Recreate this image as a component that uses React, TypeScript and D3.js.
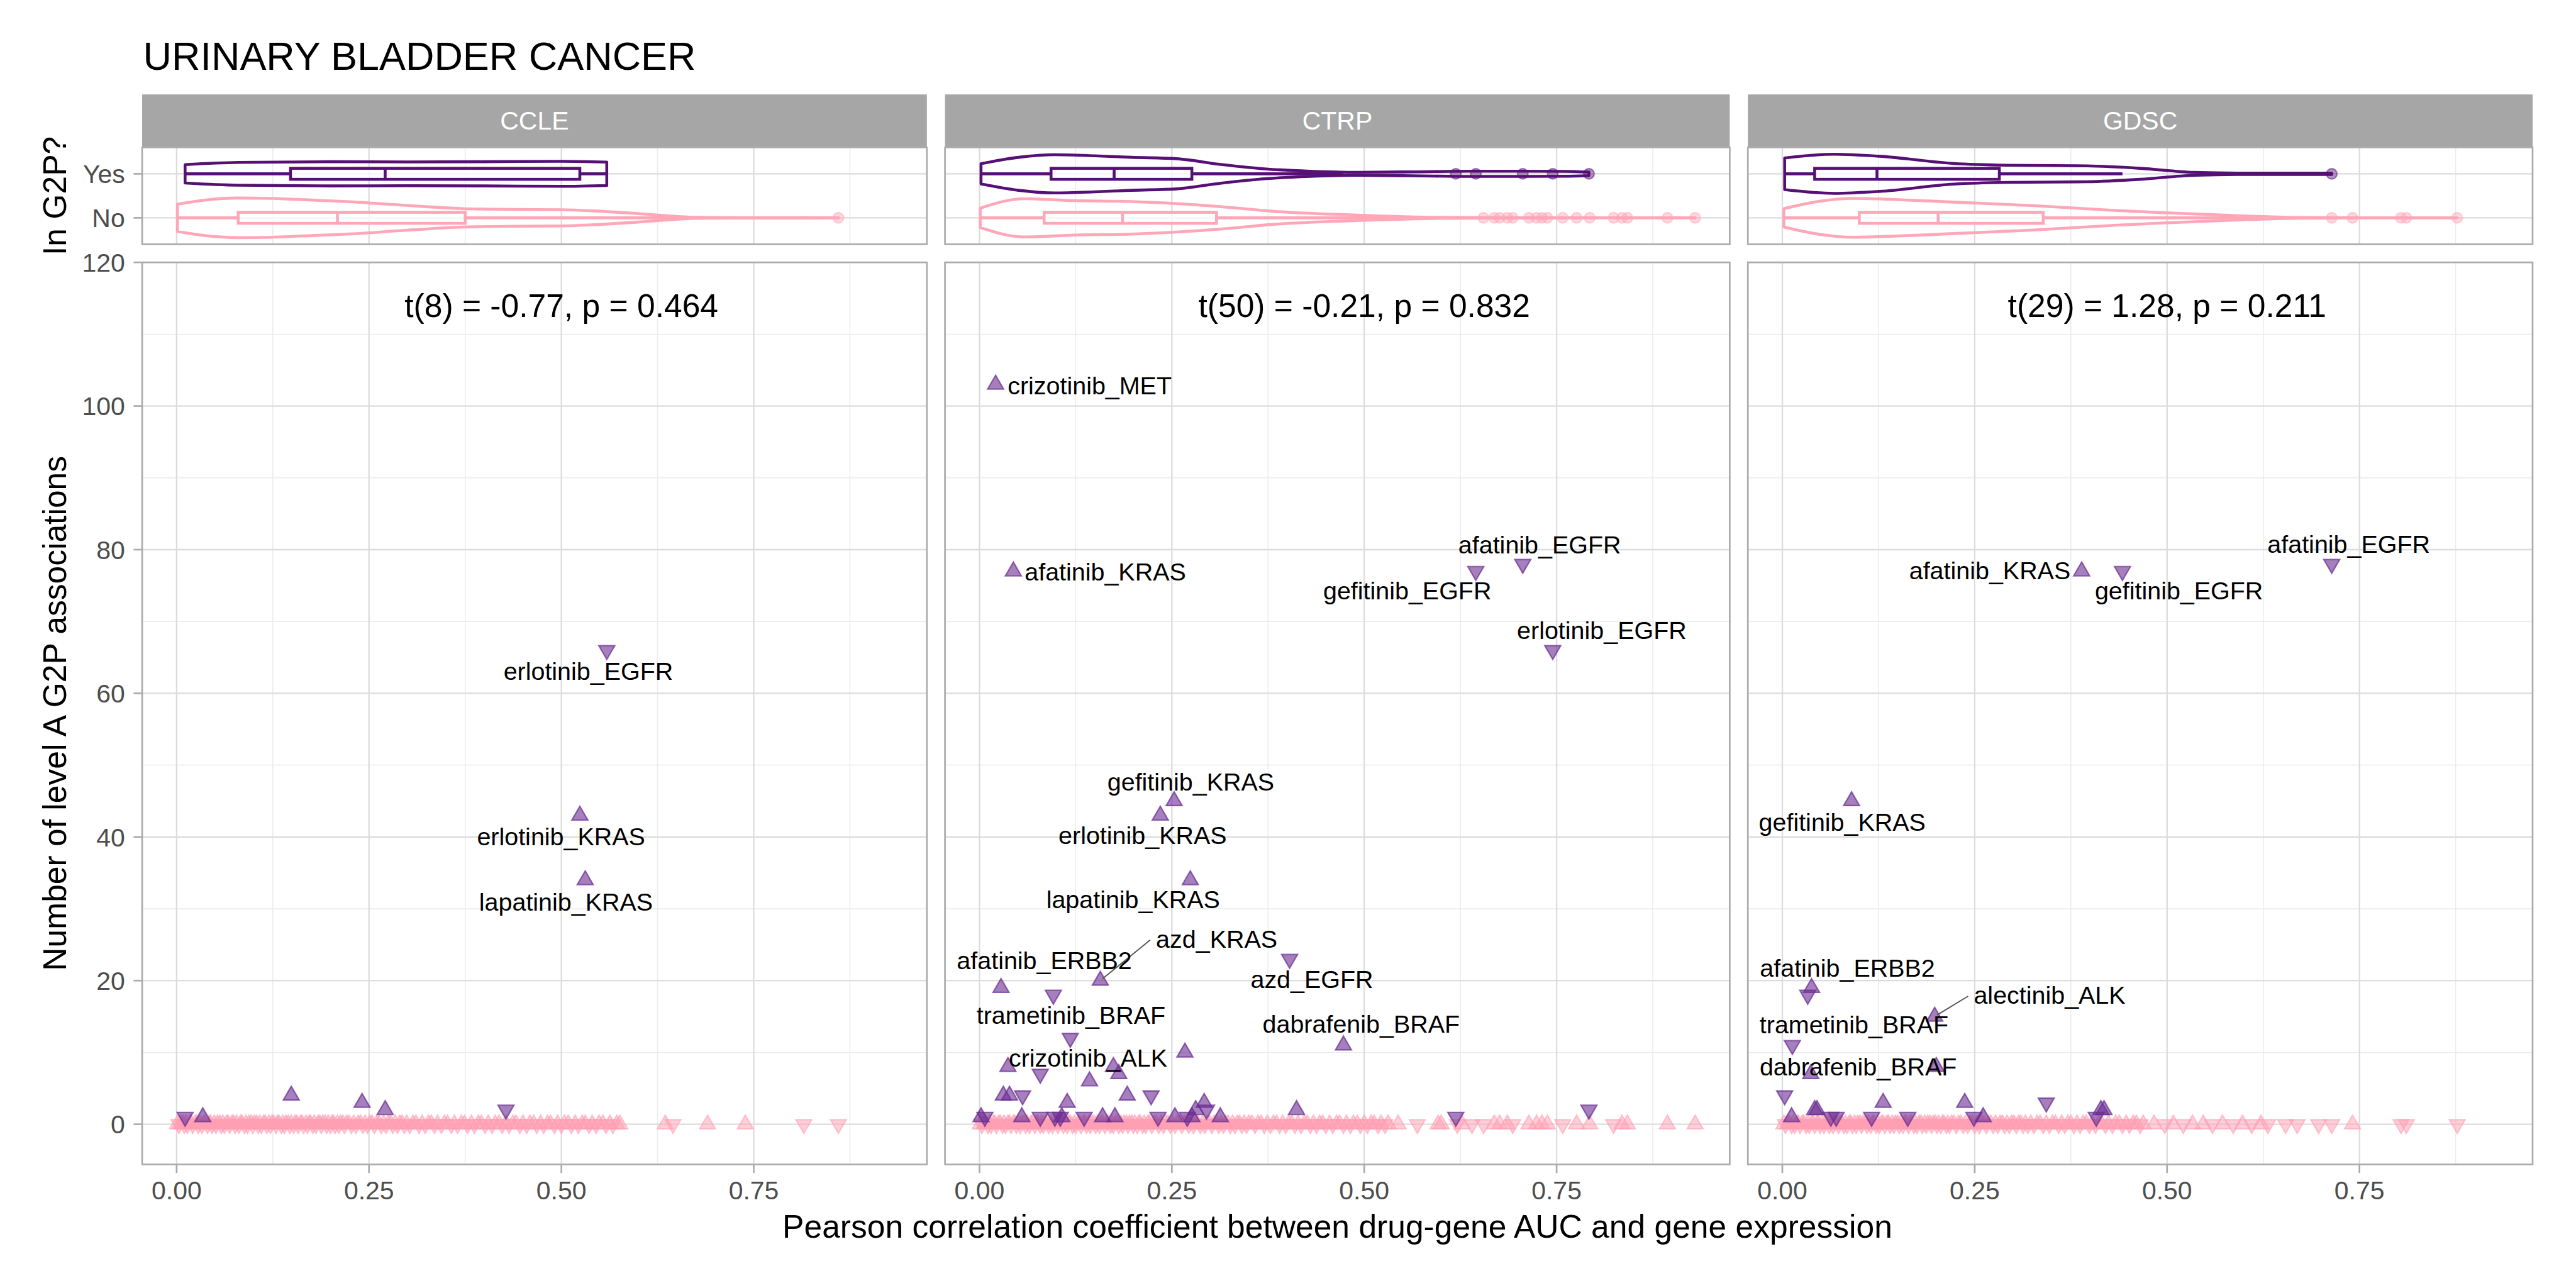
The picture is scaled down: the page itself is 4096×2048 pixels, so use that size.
import React from 'react';
import * as d3 from 'd3';

// facets and annotations
const datasets = ['CCLE', 'CTRP', 'GDSC'];
const tTests = ['t(8) = -0.77, p = 0.464', 't(50) = -0.21, p = 0.832', 't(29) = 1.28, p = 0.211'];
const groups = ['Yes', 'No'];
const xTicks = [0, 0.25, 0.5, 0.75];
const xMinor = [0.125, 0.375, 0.625, 0.875];
const yTicks = [0, 20, 40, 60, 80, 100, 120];
const yMinor = [10, 30, 50, 70, 90, 110];

// in G2P: [signed r (sign = triangle direction), number of level A associations]
const ccleYes = [[-0.559, 66], [0.524, 43], [0.531, 34], [0.149, 4], [0.241, 3], [0.271, 2], [-0.428, 2], [-0.011, 1], [0.034, 1]];
const ctrpYes = [[0.021, 103], [0.044, 77], [-0.706, 78], [-0.645, 77], [-0.745, 66], [0.253, 45], [0.235, 43], [0.274, 34], [-0.403, 23], [0.157, 20], [0.028, 19], [-0.096, 18], [-0.118, 12], [0.473, 11], [0.267, 10], [0.037, 8], [0.174, 8], [0.181, 7], [-0.079, 7], [0.143, 6], [0.031, 4], [0.039, 4], [-0.056, 4], [0.192, 4], [-0.223, 4], [0.114, 3], [0.292, 3], [0.281, 2], [-0.295, 2], [0.412, 2], [-0.792, 2], [-0.619, 1], [-0.007, 1], [0.002, 1], [0.055, 1], [-0.079, 1], [-0.098, 1], [-0.105, 1], [0.107, 1], [-0.136, 1], [0.16, 1], [0.176, 1], [-0.232, 1], [0.254, 1], [-0.27, 1], [0.276, 1], [0.313, 1]];
const gdscYes = [[0.389, 77], [-0.442, 77], [-0.714, 78], [0.09, 45], [0.038, 19], [-0.033, 18], [0.198, 15], [-0.013, 11], [0.2, 8], [0.037, 7], [-0.003, 4], [0.131, 3], [0.237, 3], [-0.343, 3], [0.042, 2], [0.045, 2], [0.414, 2], [0.418, 2], [-0.408, 1], [-0.07, 1], [-0.063, 1], [0.012, 1], [-0.116, 1], [-0.163, 1], [-0.249, 1], [0.261, 1]];

// not in G2P: signed r, all at 0 associations
const ccleNo = [0.001, -0.003, 0.005, 0.008, -0.01, 0.012, -0.014, 0.017, 0.019, -0.021, 0.024, 0.026, -0.028, 0.03, -0.033, 0.035, 0.037, -0.04, 0.042, 0.044, -0.046, 0.049, -0.051, 0.053, 0.056, -0.058, 0.06, -0.062, 0.065, 0.067, -0.069, 0.072, 0.074, -0.076, 0.078, -0.081, 0.083, 0.085, -0.088, 0.09, -0.092, 0.094, 0.097, -0.099, 0.101, 0.104, -0.106, 0.108, -0.11, 0.113, 0.115, -0.117, 0.12, -0.122, 0.124, 0.126, -0.129, 0.131, 0.133, -0.136, 0.138, -0.14, 0.142, 0.145, -0.147, 0.149, -0.152, 0.154, 0.156, -0.158, 0.161, 0.163, -0.165, 0.168, -0.17, 0.172, 0.174, -0.177, 0.179, -0.181, 0.184, 0.186, -0.188, 0.19, 0.193, -0.195, 0.197, -0.2, 0.202, 0.204, -0.206, 0.209, -0.211, 0.213, 0.216, -0.218, 0.221, 0.224, -0.227, 0.23, -0.233, 0.236, 0.239, -0.242, 0.245, -0.248, 0.251, 0.254, -0.257, 0.26, 0.263, -0.266, 0.269, -0.272, 0.275, 0.278, -0.281, 0.284, -0.287, 0.29, 0.293, -0.296, 0.299,
    -0.303, 0.307, 0.311, -0.315, 0.319, -0.323, 0.327, 0.331, -0.335, 0.339, -0.344, 0.348, 0.352, -0.357, 0.361, -0.365, 0.37, 0.374, -0.378, 0.383, -0.387, 0.392, 0.396, -0.401, 0.405, -0.41, 0.414, 0.419, -0.423, 0.428, -0.432, 0.437, 0.441, -0.446, 0.45, -0.455, 0.459, 0.464, -0.468, 0.473, -0.477, 0.482, 0.486, -0.491, 0.495, -0.5, 0.504, 0.509, -0.513, 0.518, -0.522, 0.527, 0.531, -0.536, 0.54, -0.545, 0.549, 0.554, -0.558, 0.563, -0.567, 0.572, 0.576,
    0.635, -0.645, 0.69, 0.739, -0.815, -0.86];
const ctrpNo = [0.001, -0.003, 0.006, 0.008, -0.011, 0.013, -0.015, 0.018, 0.02, -0.022, 0.025, 0.027, -0.03, 0.032, -0.034, 0.037, 0.039, -0.041, 0.044, 0.046, -0.048, 0.051, -0.053, 0.055, 0.058, -0.06, 0.062, -0.065, 0.067, 0.069, -0.072, 0.074, 0.076, -0.079, 0.081, -0.083, 0.086, 0.088, -0.09, 0.093, -0.095, 0.097, 0.1, -0.102, 0.104, 0.107, -0.109, 0.111, -0.114, 0.116, 0.118, -0.121, 0.123, -0.125, 0.128, 0.13, -0.132, 0.135, 0.137, -0.139, 0.142, -0.144, 0.146, 0.149, -0.151, 0.153, -0.156, 0.158, 0.16, -0.163, 0.165, 0.167, -0.17, 0.172, -0.174, 0.177, 0.179, -0.181, 0.184, -0.186, 0.188, 0.191, -0.193, 0.195, 0.198, -0.2, 0.202, -0.205, 0.207, 0.209, -0.212, 0.214, -0.216, 0.219, 0.221, -0.224, 0.227, 0.23, -0.233, 0.236, -0.239, 0.242, 0.245, -0.248, 0.251, -0.254, 0.257, 0.26, -0.263, 0.266, 0.269, -0.272, 0.275, -0.278, 0.281, 0.284, -0.287, 0.29, -0.293, 0.296, 0.299, -0.302, 0.305, 0.308, -0.311, 0.314, -0.317, 0.32, 0.323, -0.326, 0.329, -0.332, 0.335, 0.338, -0.341, 0.344, -0.347, 0.35,
    0.354, -0.358, 0.362, 0.366, -0.37, 0.374, -0.378, 0.382, 0.386, -0.39, 0.394, -0.398, 0.402, 0.406, -0.41, 0.414, -0.418, 0.422, 0.426, -0.43, 0.434, -0.438, 0.442, 0.446, -0.45, 0.455, -0.459, 0.464, 0.468, -0.473, 0.477, -0.482, 0.486, 0.491, -0.495, 0.5, -0.504, 0.509, 0.513, -0.518, 0.522, -0.527, 0.531,
    0.544, -0.569, 0.596, 0.6, -0.621, 0.627, -0.64, -0.655, 0.669, 0.676, 0.686, -0.693, 0.714, 0.724, 0.731, 0.738, -0.758, 0.776, 0.793, -0.824, 0.835, 0.842, 0.894, 0.93];
const gdscNo = [0.002, -0.004, 0.007, 0.009, -0.012, 0.014, -0.016, 0.019, 0.021, -0.023, 0.026, 0.028, -0.031, 0.033, -0.035, 0.038, 0.04, -0.042, 0.045, 0.047, -0.049, 0.052, -0.054, 0.056, 0.059, -0.061, 0.063, -0.066, 0.068, 0.07, -0.073, 0.075, 0.077, -0.08, 0.082, -0.084, 0.087, 0.089, -0.091, 0.094, -0.096, 0.098, 0.101, -0.103, 0.105, 0.108, -0.11, 0.112, -0.115, 0.117, 0.119, -0.122, 0.124, -0.126, 0.129, 0.131, -0.133, 0.136, 0.138, -0.14, 0.143, -0.145, 0.147, 0.15, -0.152, 0.154, -0.157, 0.159, 0.161, -0.164, 0.166, 0.168, -0.171, 0.173, -0.175, 0.178, 0.18, -0.182, 0.185, -0.187, 0.189, 0.192, -0.194, 0.196, 0.199, -0.201, 0.203, -0.206, 0.208, 0.21, -0.213, 0.215, -0.217, 0.22, 0.223, -0.226, 0.229, 0.232, -0.235, 0.238, -0.241, 0.244, 0.247, -0.25, 0.253, -0.256, 0.259, 0.262, -0.265, 0.268, 0.271, -0.274, 0.277, -0.28, 0.283, 0.286, -0.289, 0.292, -0.295, 0.298, 0.301, -0.304, 0.307, 0.31, -0.313, 0.316, -0.319,
    0.323, -0.327, 0.331, 0.335, -0.339, 0.343, -0.347, 0.351, 0.355, -0.359, 0.363, -0.367, 0.371, 0.375, -0.379, 0.383, -0.387, 0.391, 0.395, -0.399, 0.403, -0.407, 0.411, 0.415, -0.42, 0.424, -0.429, 0.433, 0.438, -0.442, 0.447, -0.451, 0.456, 0.46, -0.465, 0.469,
    0.483, -0.497, 0.508, -0.521, 0.533, 0.547, -0.559, 0.572, -0.586, 0.598, -0.61, 0.622, -0.631,
    -0.654, -0.669, -0.697, -0.714, 0.741, -0.804, -0.811, -0.877];

// violin outlines: [|r|, half width in category units]
const ccleYesViolin = [[0.011, 0.21], [0.08, 0.26], [0.2, 0.275], [0.3, 0.27], [0.4, 0.275], [0.5, 0.285], [0.559, 0.265]];
const ccleNoViolin = [[0.001, 0.31], [0.04, 0.41], [0.078, 0.45], [0.124, 0.44], [0.18, 0.4], [0.221, 0.37], [0.3, 0.28], [0.372, 0.21], [0.44, 0.19], [0.5, 0.185], [0.55, 0.15], [0.597, 0.1], [0.64, 0.045], [0.672, 0.012], [0.72, 0.005], [0.8, 0.004], [0.86, 0.003]];
const ctrpYesViolin = [[0.002, 0.23], [0.051, 0.375], [0.098, 0.435], [0.15, 0.41], [0.197, 0.375], [0.256, 0.343], [0.314, 0.212], [0.373, 0.109], [0.43, 0.06], [0.49, 0.035], [0.562, 0.045], [0.636, 0.06], [0.709, 0.06], [0.76, 0.055], [0.792, 0.04]];
const ctrpNoViolin = [[0.001, 0.22], [0.058, 0.435], [0.124, 0.39], [0.197, 0.37], [0.27, 0.31], [0.33, 0.23], [0.38, 0.15], [0.49, 0.063], [0.599, 0.011], [0.672, 0.005], [0.8, 0.003], [0.93, 0.002]];
const gdscYesViolin = [[0.003, 0.36], [0.0675, 0.445], [0.126, 0.4], [0.223, 0.234], [0.292, 0.196], [0.396, 0.18], [0.465, 0.125], [0.535, 0.033], [0.604, 0.015], [0.714, 0.016]];
const gdscNoViolin = [[0.002, 0.21], [0.05, 0.38], [0.092, 0.44], [0.154, 0.41], [0.223, 0.357], [0.327, 0.278], [0.431, 0.169], [0.5, 0.114], [0.604, 0.041], [0.673, 0.008], [0.742, 0.003], [0.877, 0.002]];

// boxplots: [lower whisker, q1, median, q3, upper whisker]
const ccleBox = { Yes: [0.011, 0.148, 0.271, 0.524, 0.559], No: [0.001, 0.08, 0.209, 0.375, 0.816] };
const ctrpBox = { Yes: [0.002, 0.093, 0.175, 0.276, 0.473], No: [0.001, 0.084, 0.186, 0.308, 0.64] };
const gdscBox = { Yes: [0.003, 0.042, 0.123, 0.282, 0.442], No: [0.002, 0.1, 0.2025, 0.339, 0.697] };

// repelled labels: label anchor (lx, ly) in data units
const ccleLabels = [
    { text: 'erlotinib_EGFR', lx: 0.535, ly: 61.9, anchor: 'middle' },
    { text: 'erlotinib_KRAS', lx: 0.4996, ly: 38.8, anchor: 'middle' },
    { text: 'lapatinib_KRAS', lx: 0.506, ly: 29.7, anchor: 'middle' },
];
const ctrpLabels = [
    { text: 'crizotinib_MET', lx: 0.0366, ly: 101.66, anchor: 'start' },
    { text: 'afatinib_KRAS', lx: 0.0587, ly: 75.7, anchor: 'start' },
    { text: 'afatinib_EGFR', lx: 0.728, ly: 79.5, anchor: 'middle' },
    { text: 'gefitinib_EGFR', lx: 0.556, ly: 73.1, anchor: 'middle' },
    { text: 'erlotinib_EGFR', lx: 0.8087, ly: 67.6, anchor: 'middle' },
    { text: 'gefitinib_KRAS', lx: 0.2746, ly: 46.5, anchor: 'middle' },
    { text: 'erlotinib_KRAS', lx: 0.212, ly: 39.0, anchor: 'middle' },
    { text: 'lapatinib_KRAS', lx: 0.1997, ly: 30.1, anchor: 'middle' },
    { text: 'azd_KRAS', lx: 0.2294, ly: 24.6, anchor: 'start', seg: [0.157, 20] },
    { text: 'afatinib_ERBB2', lx: 0.0843, ly: 21.6, anchor: 'middle' },
    { text: 'azd_EGFR', lx: 0.432, ly: 19.0, anchor: 'middle' },
    { text: 'trametinib_BRAF', lx: 0.1189, ly: 13.95, anchor: 'middle' },
    { text: 'dabrafenib_BRAF', lx: 0.496, ly: 12.75, anchor: 'middle' },
    { text: 'crizotinib_ALK', lx: 0.141, ly: 8.0, anchor: 'middle' },
];
const gdscLabels = [
    { text: 'afatinib_KRAS', lx: 0.3745, ly: 75.9, anchor: 'end' },
    { text: 'gefitinib_EGFR', lx: 0.5154, ly: 73.1, anchor: 'middle' },
    { text: 'afatinib_EGFR', lx: 0.7361, ly: 79.6, anchor: 'middle' },
    { text: 'gefitinib_KRAS', lx: 0.0778, ly: 40.9, anchor: 'middle' },
    { text: 'afatinib_ERBB2', lx: 0.0846, ly: 20.5, anchor: 'middle' },
    { text: 'alectinib_ALK', lx: 0.2488, ly: 16.76, anchor: 'start', seg: [0.198, 15] },
    { text: 'trametinib_BRAF', lx: 0.0931, ly: 12.65, anchor: 'middle' },
    { text: 'dabrafenib_BRAF', lx: 0.0986, ly: 6.8, anchor: 'middle' },
];

const yesPoints = [ccleYes, ctrpYes, gdscYes];
const noPoints = [ccleNo, ctrpNo, gdscNo];
const violins = [
    { Yes: ccleYesViolin, No: ccleNoViolin },
    { Yes: ctrpYesViolin, No: ctrpNoViolin },
    { Yes: gdscYesViolin, No: gdscNoViolin },
];
const boxes = [ccleBox, ctrpBox, gdscBox];
const labels = [ccleLabels, ctrpLabels, gdscLabels];

const colors = { Yes: '#560F75', No: '#FFA7B8' };
const FONT = '"Liberation Sans", Arial, Helvetica, sans-serif';

// layout in reference pixels, scaled by the viewBox
const W = 5400, H = 2700;
const panelLeft = [298, 1981, 3664];
const panelW = 1645;
const stripTop = 198, stripBottom = 308;
const vioTop = 309, vioBottom = 512;
const scTop = 550, scBottom = 2441;

const gridMajor = '#DCDCDC';
const gridMinor = '#EBEBEB';
const borderCol = '#ABABAB';

export default function App() {
    const y = d3.scaleLinear().domain([-5.6, 120]).range([scBottom, scTop]);
    const cat = d3.scalePoint<string>().domain(groups).range([vioTop, vioBottom]).padding(0.6);
    const step = cat.step();
    const tri = d3.symbol().type(d3.symbolTriangle).size(480)() as string;

    const triangle = (px: number, py: number, down: boolean, fill: string, fo: number, so: number, key: string) => (
        <path key={key} d={tri} transform={`translate(${px},${py})${down ? ' rotate(180)' : ''}`}
            fill={fill} fillOpacity={fo} stroke={fill} strokeOpacity={so} strokeWidth={3} />
    );

    return (
        <svg width={4096} height={2048} viewBox={`0 0 ${W} ${H}`}
            style={{ position: 'absolute', left: 0, top: 0, background: '#fff' }} fontFamily={FONT}>
            <rect x={0} y={0} width={W} height={H} fill="#fff" />
            <text x={300} y={146} fontSize={83} fill="#000">URINARY BLADDER CANCER</text>

            {/* y axis titles */}
            <text transform={`translate(138,${(vioTop + vioBottom) / 2}) rotate(-90)`} textAnchor="middle" fontSize={68}>In G2P?</text>
            <text transform={`translate(138,${(scTop + scBottom) / 2}) rotate(-90)`} textAnchor="middle" fontSize={68}>Number of level A G2P associations</text>
            <text x={(panelLeft[0] + panelLeft[2] + panelW) / 2} y={2595} textAnchor="middle" fontSize={68}>
                Pearson correlation coefficient between drug-gene AUC and gene expression
            </text>

            {/* y ticks (left column only) */}
            {groups.map(g => (
                <g key={g}>
                    <line x1={280} x2={298} y1={cat(g)} y2={cat(g)} stroke={borderCol} strokeWidth={3.5} />
                    <text x={262} y={(cat(g) as number) + 19.5} textAnchor="end" fontSize={54} fill="#4D4D4D">{g}</text>
                </g>
            ))}
            {yTicks.map(t => (
                <g key={t}>
                    <line x1={280} x2={298} y1={y(t)} y2={y(t)} stroke={borderCol} strokeWidth={3.5} />
                    <text x={262} y={y(t) + 19.5} textAnchor="end" fontSize={54} fill="#4D4D4D">{t}</text>
                </g>
            ))}

            {datasets.map((ds, i) => {
                const left = panelLeft[i];
                const x = d3.scaleLinear().domain([-0.0448, 0.975]).range([left, left + panelW]);
                const box = boxes[i] as any;
                const vio = violins[i] as any;
                return (
                    <g key={ds}>
                        {/* strip */}
                        <rect x={left} y={stripTop} width={panelW} height={stripBottom - stripTop} fill="#A6A6A6" />
                        <text x={left + panelW / 2} y={272} textAnchor="middle" fontSize={54} fill="#fff">{ds}</text>

                        {/* violin panel */}
                        <rect x={left} y={vioTop} width={panelW} height={vioBottom - vioTop} fill="#fff" />
                        {xMinor.map(t => <line key={'vm' + t} x1={x(t)} x2={x(t)} y1={vioTop} y2={vioBottom} stroke={gridMinor} strokeWidth={2} />)}
                        {xTicks.map(t => <line key={'vM' + t} x1={x(t)} x2={x(t)} y1={vioTop} y2={vioBottom} stroke={gridMajor} strokeWidth={3} />)}
                        {groups.map(g => <line key={'vg' + g} x1={left} x2={left + panelW} y1={cat(g)} y2={cat(g)} stroke={gridMajor} strokeWidth={3} />)}
                        {groups.map(g => {
                            const cy = cat(g) as number;
                            const prof = vio[g] as number[][];
                            const area = d3.area<number[]>()
                                .x(d => x(d[0]))
                                .y0(d => cy - d[1] * step)
                                .y1(d => cy + d[1] * step)
                                .curve(d3.curveMonotoneX);
                            const [lo, q1, med, q3, hi] = box[g] as number[];
                            const bh = 0.125 * step;
                            const vals = g === 'Yes'
                                ? (yesPoints[i] as number[][]).map(p => Math.abs(p[0]))
                                : (noPoints[i] as number[]).map(v => Math.abs(v));
                            const outliers = vals.filter(v => v > hi + 1e-9);
                            const c = colors[g as 'Yes' | 'No'];
                            return (
                                <g key={'v' + g}>
                                    <path d={area(prof) as string} fill="none" stroke={c} strokeWidth={6} strokeLinejoin="round" />
                                    <line x1={x(lo)} x2={x(q1)} y1={cy} y2={cy} stroke={c} strokeWidth={6} />
                                    <line x1={x(q3)} x2={x(hi)} y1={cy} y2={cy} stroke={c} strokeWidth={6} />
                                    <rect x={x(q1)} y={cy - bh} width={x(q3) - x(q1)} height={2 * bh}
                                        fill="#fff" fillOpacity={0.7} stroke={c} strokeWidth={6} />
                                    <line x1={x(med)} x2={x(med)} y1={cy - bh} y2={cy + bh} stroke={c} strokeWidth={6} />
                                    {outliers.map((v, k) => (
                                        <circle key={k} cx={x(v)} cy={cy} r={11} fill={c} fillOpacity={0.45}
                                            stroke={c} strokeOpacity={0.5} strokeWidth={3} />
                                    ))}
                                </g>
                            );
                        })}
                        <rect x={left} y={vioTop} width={panelW} height={vioBottom - vioTop} fill="none" stroke={borderCol} strokeWidth={3.5} />

                        {/* scatter panel */}
                        <rect x={left} y={scTop} width={panelW} height={scBottom - scTop} fill="#fff" />
                        {xMinor.map(t => <line key={'sm' + t} x1={x(t)} x2={x(t)} y1={scTop} y2={scBottom} stroke={gridMinor} strokeWidth={2} />)}
                        {yMinor.map(t => <line key={'sym' + t} x1={left} x2={left + panelW} y1={y(t)} y2={y(t)} stroke={gridMinor} strokeWidth={2} />)}
                        {xTicks.map(t => <line key={'sM' + t} x1={x(t)} x2={x(t)} y1={scTop} y2={scBottom} stroke={gridMajor} strokeWidth={3} />)}
                        {yTicks.map(t => <line key={'syM' + t} x1={left} x2={left + panelW} y1={y(t)} y2={y(t)} stroke={gridMajor} strokeWidth={3} />)}

                        {(noPoints[i] as number[]).map((v, k) =>
                            triangle(x(Math.abs(v)), y(0), v < 0, '#FF9FB3', 0.5, 0.55, 'n' + k))}
                        {(yesPoints[i] as number[][]).map((p, k) =>
                            triangle(x(Math.abs(p[0])), y(p[1]), p[0] < 0, '#6A2C91', 0.6, 0.7, 'y' + k))}

                        <text x={x(0.5)} y={y(114) + 24} textAnchor="middle" fontSize={68} fill="#000">{tTests[i]}</text>

                        {labels[i].map((l: any) => {
                            const tx = x(l.lx), ty = y(l.ly);
                            let seg = null;
                            if (l.seg) {
                                const px = x(l.seg[0]), py = y(l.seg[1]);
                                const sx = tx - 12, sy = ty - 16;
                                const dx = sx - px, dy = sy - py, len = Math.hypot(dx, dy);
                                seg = <line x1={sx} y1={sy} x2={px + dx / len * 6} y2={py + dy / len * 6} stroke="#555" strokeWidth={2.5} />;
                            }
                            return (
                                <g key={l.text}>
                                    {seg}
                                    <text x={tx} y={ty} textAnchor={l.anchor} fontSize={52} fill="#000">{l.text}</text>
                                </g>
                            );
                        })}

                        <rect x={left} y={scTop} width={panelW} height={scBottom - scTop} fill="none" stroke={borderCol} strokeWidth={3.5} />

                        {/* x axis */}
                        {xTicks.map(t => (
                            <g key={'xt' + t}>
                                <line x1={x(t)} x2={x(t)} y1={scBottom} y2={scBottom + 18} stroke={borderCol} strokeWidth={3.5} />
                                <text x={x(t)} y={2514} textAnchor="middle" fontSize={54} fill="#4D4D4D">{t.toFixed(2)}</text>
                            </g>
                        ))}
                    </g>
                );
            })}
        </svg>
    );
}
